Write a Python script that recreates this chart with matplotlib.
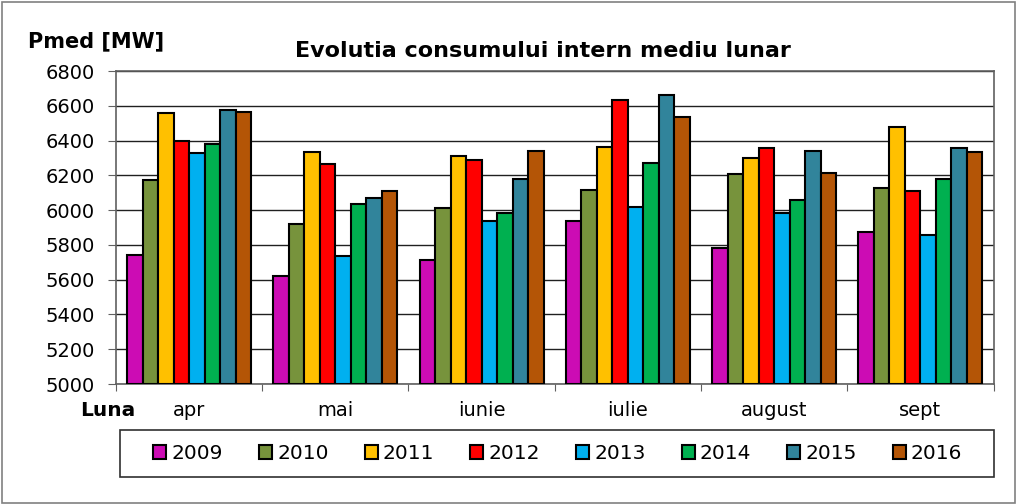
import matplotlib
matplotlib.use("Agg")
import matplotlib.pyplot as plt
import numpy as np
from matplotlib.patches import Rectangle

plt.rcParams['font.family'] = ['DejaVu Sans']

months = ["apr", "mai", "iunie", "iulie", "august", "sept"]
years = ["2009", "2010", "2011", "2012", "2013", "2014", "2015", "2016"]
v2009 = [5740, 5620, 5715, 5940, 5785, 5875]
v2010 = [6175, 5920, 6015, 6115, 6210, 6125]
v2011 = [6560, 6335, 6310, 6365, 6300, 6480]
v2012 = [6400, 6265, 6290, 6635, 6360, 6110]
v2013 = [6330, 5735, 5940, 6020, 5985, 5860]
v2014 = [6380, 6035, 5985, 6270, 6060, 6180]
v2015 = [6575, 6070, 6180, 6665, 6340, 6355]
v2016 = [6565, 6110, 6340, 6535, 6215, 6335]
series = [v2009, v2010, v2011, v2012, v2013, v2014, v2015, v2016]
colors = ["#CC0CB4", "#77933C", "#FFC000", "#FF0000", "#00B0F0", "#00B050", "#31849B", "#B45506"]
yticks = list(range(5000, 6801, 200))

fig = plt.figure(figsize=(10.17, 5.04), dpi=100)
ax = fig.add_axes([0.114, 0.238, 0.863, 0.621])

x = np.arange(len(months))
bw = 0.106
for i, (vals, c, lab) in enumerate(zip(series, colors, years)):
    off = (i - 3.5) * bw
    ax.bar(x + off, np.array(vals) - 5000, bottom=5000, width=bw, color=c,
           edgecolor="black", linewidth=1.5, label=lab, zorder=3)

ax.set_ylim(5000, 6800)
ax.set_xlim(-0.5, len(months) - 0.5)
ax.set_yticks(yticks)
ax.set_yticklabels([str(t) for t in yticks], fontsize=14)
ax.yaxis.grid(True, color="#202020", linewidth=1.0, zorder=0)
ax.set_axisbelow(True)
ax.set_xticks(np.arange(-0.5, len(months), 1.0))
ax.set_xticklabels([])
ax.set_xticks(x, minor=True)
ax.set_xticklabels(months, minor=True, fontsize=14)
ax.tick_params(axis='x', which='minor', length=0, pad=12)
ax.tick_params(axis='x', which='major', length=5, color="#606060", direction='out')
ax.tick_params(axis='y', length=6, color="#606060", direction='out', pad=9)
for s in ax.spines.values():
    s.set_color("#606060")
    s.set_linewidth(1.2)

fig.text(0.534, 0.898, "Evolutia consumului intern mediu lunar", ha="center", va="center",
         fontsize=16, fontweight="bold")
fig.text(0.028, 0.918, "Pmed [MW]", ha="left", va="center", fontsize=15, fontweight="bold")
fig.text(0.079, 0.186, "Luna", ha="left", va="center", fontsize=14.5, fontweight="bold")

leg = fig.legend(loc="center", bbox_to_anchor=(0.118 + 0.015, 0.0536, 0.859 - 0.028, 0.0932),
                 mode="expand", ncol=8, fontsize=14.5,
                 frameon=False, handlelength=0.65,
                 handleheight=0.65, handletextpad=0.25, borderpad=0.4)
for h in leg.legend_handles:
    h.set_linewidth(1.5)

fig.patches.append(Rectangle((0.118, 0.0536), 0.859, 0.0932, transform=fig.transFigure,
                             fill=False, edgecolor="#303030", linewidth=1.2))
fig.patches.append(Rectangle((0.002, 0.002), 0.996, 0.994, transform=fig.transFigure,
                             fill=False, edgecolor="#808080", linewidth=1.2))

fig.savefig("out.png", dpi=100)
